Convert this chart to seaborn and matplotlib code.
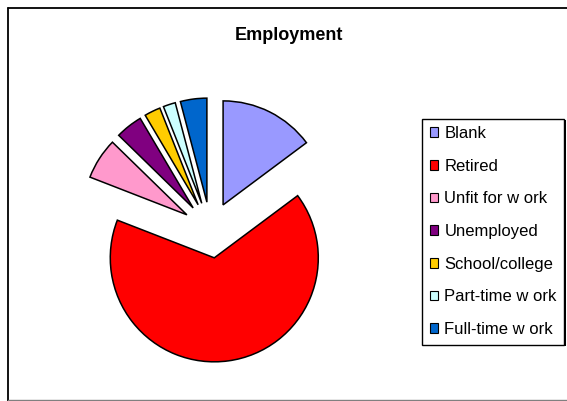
import matplotlib
matplotlib.use("Agg")
import matplotlib.pyplot as plt
from matplotlib.lines import Line2D
from matplotlib.patches import Rectangle
from matplotlib.transforms import IdentityTransform
import seaborn as sns

# Employment categories and their shares (%)
categories = ["Blank", "Retired", "Unfit for w ork", "Unemployed",
              "School/college", "Part-time w ork", "Full-time w ork"]
shares = [14.8, 66.1, 6.4, 4.2, 2.5, 1.9, 4.1]
colors = ["#9999FF", "#FF0000", "#FF99CC", "#800080",
          "#FFCC00", "#CCFFFF", "#0066CC"]
title = "Employment"

sns.set_theme(style="white")
plt.rcParams["font.family"] = ["Liberation Sans", "DejaVu Sans"]
plt.rcParams["text.color"] = "black"

W, H, DPI = 567, 401, 100
fig = plt.figure(figsize=(W / DPI, H / DPI), dpi=DPI)
fig.patch.set_facecolor("white")

ax = fig.add_axes([0, 0, 1, 1])
wedges, _ = ax.pie(
    shares,
    colors=colors,
    startangle=90,
    counterclock=False,
    explode=[0.27] * len(shares),
    radius=1.0,
    wedgeprops=dict(edgecolor="black", linewidth=1.1),
)

# pie centre and radius in pixels
cx, cy, r = 210.5, 230.0, 104.0
ax.set_aspect("auto")
ax.set_xlim(-cx / r, (W - cx) / r)
ax.set_ylim(-(H - cy) / r, cy / r)
ax.axis("off")

fig.text(289 / W, 1 - 36 / H, title, ha="center", va="center",
         fontsize=13, fontweight="bold", color="black")

leg = ax.legend(
    wedges, categories,
    loc="upper left",
    bbox_to_anchor=(422 / W, 1 - 118.5 / H),
    bbox_transform=fig.transFigure,
    borderaxespad=0,
    frameon=True,
    fancybox=False,
    framealpha=1.0,
    fontsize=12,
    handlelength=0.5,
    handleheight=0.5,
    handletextpad=0.4,
    labelspacing=1.06,
    borderpad=0.45,
)
leg.set_zorder(6)
for t in leg.get_texts():
    t.set_color("black")
frame = leg.get_frame()
frame.set_edgecolor("black")
frame.set_linewidth(1.0)
frame.set_facecolor("white")
for h in leg.legend_handles:
    h.set_edgecolor("black")
    h.set_linewidth(0.8)

# thin drop shadow behind the legend box
fig.canvas.draw()
bb = leg.get_window_extent()
off = 1.6
ax.add_artist(Rectangle((bb.x0 + off, bb.y0 - off), bb.width, bb.height,
                        transform=IdentityTransform(), facecolor="black",
                        edgecolor="none", zorder=5.5, clip_on=False))

# chart-area border
fig.add_artist(Line2D([7.5 / W, 7.5 / W], [1 - 7.5 / H, 0.5 / H],
                      transform=fig.transFigure, color="black", lw=1.3))
fig.add_artist(Line2D([7.5 / W, 1.0], [1 - 7.5 / H, 1 - 7.5 / H],
                      transform=fig.transFigure, color="black", lw=1.3))
fig.add_artist(Line2D([7.5 / W, 1.0], [0.6 / H, 0.6 / H],
                      transform=fig.transFigure, color="#808080", lw=1.0))

fig.savefig("out.png", dpi=DPI)
